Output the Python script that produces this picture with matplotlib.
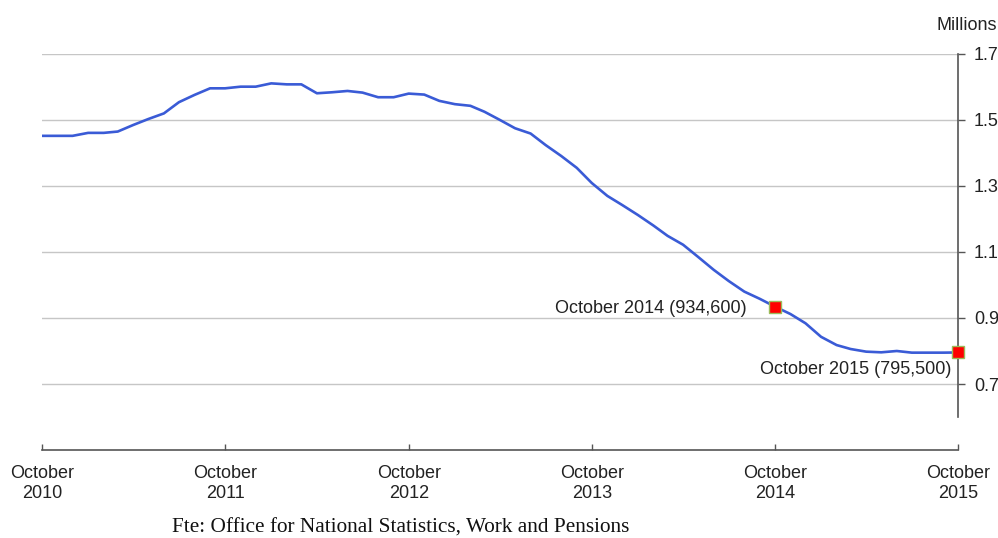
import numpy as np
import pandas as pd
import matplotlib
matplotlib.use("Agg")
import matplotlib.pyplot as plt

plt.rcParams['font.family'] = ['Liberation Sans', 'DejaVu Sans']

# monthly claimant values, Oct 2010 .. Oct 2015 (millions)
months = pd.date_range('2010-10-01', '2015-10-01', freq='MS')
claimants = [
    1.452, 1.452, 1.452, 1.461, 1.461, 1.465, 1.485, 1.503, 1.520, 1.554,
    1.576, 1.596, 1.596, 1.601, 1.601, 1.611, 1.608, 1.608, 1.581, 1.584,
    1.588, 1.583, 1.569, 1.569, 1.580, 1.577, 1.558, 1.548, 1.543, 1.525,
    1.500, 1.475, 1.459, 1.424, 1.391, 1.355, 1.309, 1.270, 1.242, 1.212,
    1.180, 1.149, 1.122, 1.085, 1.046, 1.012, 0.980, 0.958, 0.9346, 0.912,
    0.884, 0.843, 0.818, 0.806, 0.798, 0.796, 0.800, 0.795, 0.795, 0.795,
    0.7955,
]

highlight_dates = [pd.Timestamp('2014-10-01'), pd.Timestamp('2015-10-01')]
highlight_vals = [0.9346, 0.7955]
highlight_labels = ['October 2014 (934,600)', 'October 2015 (795,500)']

tick_dates = pd.date_range('2010-10-01', '2015-10-01', freq='12MS')
tick_labels = [f'October\n{d.year}' for d in tick_dates]
y_ticks = [0.7, 0.9, 1.1, 1.3, 1.5, 1.7]

fig = plt.figure(figsize=(9.98, 5.38), dpi=100)
ax = fig.add_axes([42 / 998, 1 - 450 / 538, 916 / 998, 396 / 538])

axis_col = '#555555'

# gridlines
for yv in y_ticks:
    ax.axhline(yv, color='#c6c6c6', lw=1.0, zorder=1)

ax.plot(months, claimants, color='#3a5bd6', lw=1.9, zorder=3)
ax.plot(highlight_dates, highlight_vals, ls='none', marker='s', ms=8.5,
        mfc='#ff0000', mec='#9bbb59', mew=1.0, zorder=4, clip_on=False)

ax.annotate(highlight_labels[0], (highlight_dates[0], highlight_vals[0]),
            xytext=(-20, -1.5), textcoords='offset points',
            ha='right', va='center', fontsize=13, color='#222222')
ax.annotate(highlight_labels[1], (highlight_dates[1], highlight_vals[1]),
            xytext=(-5, -12.5), textcoords='offset points',
            ha='right', va='center', fontsize=13, color='#222222')

ax.set_xlim(months[0], months[-1])
ax.set_ylim(0.5, 1.7)

ax.spines['left'].set_visible(False)
ax.spines['top'].set_visible(False)
ax.spines['right'].set_bounds(0.6, 1.7)
for s in ('right', 'bottom'):
    ax.spines[s].set_color(axis_col)
    ax.spines[s].set_linewidth(1.2)

ax.yaxis.tick_right()
ax.set_yticks(y_ticks)
ax.set_yticklabels([f'{v:.1f}' for v in y_ticks])
ax.tick_params(axis='y', direction='out', length=5, width=1.0, color=axis_col,
               pad=6.5, labelsize=13, labelcolor='#222222')

ax.set_xticks(tick_dates)
ax.set_xticklabels(tick_labels)
ax.tick_params(axis='x', direction='in', length=4, width=1.0, color=axis_col,
               pad=11, labelsize=13, labelcolor='#222222')

fig.text(937 / 998, 1 - 25 / 538, 'Millions', fontsize=13, color='#222222',
         ha='left', va='center')
fig.text(172 / 998, 1 - 528 / 538,
         'Fte: Office for National Statistics, Work and Pensions',
         family=['Liberation Serif', 'DejaVu Serif'], fontsize=15.3,
         color='#111111', ha='left', va='center')

fig.savefig('out.png', dpi=100)
